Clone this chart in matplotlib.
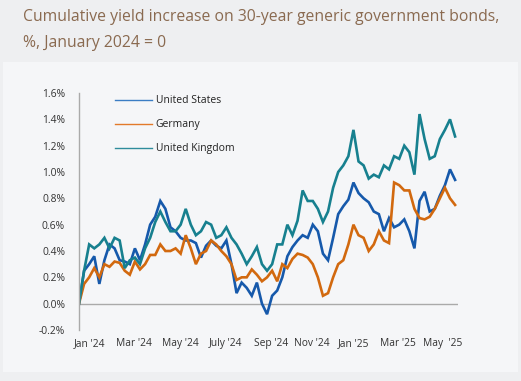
import pandas as pd
import matplotlib.pyplot as plt
from matplotlib.lines import Line2D
from matplotlib.patches import Rectangle

# weekly readings, cumulative change since Jan 2024 (percentage points)
dates = pd.date_range('2024-01-01', periods=75, freq='7D')

us = [0.0, 0.25, 0.30, 0.36, 0.15, 0.33, 0.45, 0.42, 0.33, 0.32,
      0.30, 0.42, 0.33, 0.45, 0.60, 0.66, 0.78, 0.72, 0.58, 0.55,
      0.50, 0.48, 0.48, 0.46, 0.35, 0.44, 0.48, 0.44, 0.42, 0.48,
      0.30, 0.08, 0.16, 0.12, 0.06, 0.16, 0.00, -0.08, 0.06, 0.10,
      0.20, 0.36, 0.43, 0.48, 0.52, 0.50, 0.60, 0.55, 0.38, 0.33,
      0.50, 0.68, 0.74, 0.79, 0.92, 0.84, 0.80, 0.77, 0.70, 0.68,
      0.55, 0.65, 0.58, 0.60, 0.64, 0.55, 0.42, 0.78, 0.85, 0.70,
      0.72, 0.82, 0.90, 1.02, 0.94]

germany = [0.0, 0.15, 0.20, 0.27, 0.20, 0.30, 0.28, 0.32, 0.31, 0.25,
           0.22, 0.32, 0.26, 0.30, 0.37, 0.37, 0.45, 0.40, 0.40, 0.42,
           0.38, 0.52, 0.42, 0.30, 0.38, 0.40, 0.48, 0.45, 0.40, 0.36,
           0.30, 0.18, 0.20, 0.20, 0.26, 0.22, 0.17, 0.20, 0.25, 0.17,
           0.30, 0.27, 0.34, 0.38, 0.37, 0.35, 0.30, 0.20, 0.06, 0.08,
           0.20, 0.30, 0.33, 0.45, 0.60, 0.52, 0.50, 0.40, 0.45, 0.55,
           0.48, 0.46, 0.92, 0.90, 0.86, 0.86, 0.72, 0.65, 0.64, 0.66,
           0.72, 0.80, 0.88, 0.80, 0.75]

uk = [0.0, 0.25, 0.45, 0.42, 0.45, 0.50, 0.42, 0.50, 0.48, 0.27,
      0.33, 0.35, 0.30, 0.42, 0.50, 0.62, 0.70, 0.62, 0.55, 0.55,
      0.60, 0.72, 0.60, 0.52, 0.55, 0.62, 0.60, 0.50, 0.52, 0.58,
      0.50, 0.45, 0.38, 0.30, 0.36, 0.43, 0.30, 0.25, 0.30, 0.45,
      0.45, 0.60, 0.52, 0.63, 0.86, 0.78, 0.78, 0.72, 0.62, 0.70,
      0.88, 1.00, 1.05, 1.12, 1.32, 1.08, 1.05, 0.95, 0.98, 0.96,
      1.05, 1.02, 1.12, 1.10, 1.20, 1.15, 0.98, 1.44, 1.25, 1.10,
      1.12, 1.25, 1.32, 1.40, 1.27]

series_names = ['United States', 'Germany', 'United Kingdom']
line_colors = ['#1659ab', '#d2690f', '#17808f']
legend_colors = ['#3b7dc4', '#e27a2a', '#2f8c9c']

tick_dates = pd.to_datetime(['2024-01-15', '2024-03-16', '2024-05-20', '2024-07-21',
                             '2024-09-22', '2024-11-17', '2025-01-13', '2025-03-15',
                             '2025-05-16'])
tick_labels = ["Jan '24", "Mar '24", "May '24", "July '24", "Sep '24",
               "Nov '24", "Jan '25", "Mar '25", "May  '25"]

plt.rcParams['font.family'] = ['Open Sans', 'DejaVu Sans']

fig = plt.figure(figsize=(5.21, 3.81), dpi=100)
fig.patch.set_facecolor('#eeeff1')
# lighter chart panel, behind the axes
fig.patches.append(Rectangle((3 / 521, 1 - 372 / 381), 515 / 521, 310 / 381,
                             transform=fig.transFigure, facecolor='#f5f6f8',
                             edgecolor='none', zorder=-5))

fig.text(23 / 521, 1 - 9 / 381,
         'Cumulative yield increase on 30-year generic government bonds,\n%, January 2024 = 0',
         color='#8a6a50', fontsize=11.3, va='top', ha='left', linespacing=1.85)

ax = fig.add_axes([79 / 521, 1 - 330 / 381, (458 - 79) / 521, (330 - 93) / 381])
ax.set_facecolor('none')
ax.set_zorder(2)

for vals, c in zip([us, germany, uk], line_colors):
    ax.plot(dates, vals, color=c, lw=1.9, solid_joinstyle='miter')

ax.axhline(0, color='#aaaaaa', lw=1, zorder=0)
ax.set_ylim(-0.2, 1.6)
ax.set_xlim(pd.Timestamp('2024-01-01'), pd.Timestamp('2025-06-06'))
ax.set_yticks([-0.2, 0.0, 0.2, 0.4, 0.6, 0.8, 1.0, 1.2, 1.4, 1.6])
ax.set_yticklabels([f'{v:.1f}%' for v in ax.get_yticks()])
ax.set_xticks(tick_dates)
ax.set_xticklabels(tick_labels)
ax.tick_params(axis='both', length=0, labelsize=7.4, colors='#333333')
ax.tick_params(axis='y', pad=10)
ax.tick_params(axis='x', pad=6)

for side in ['top', 'right', 'bottom']:
    ax.spines[side].set_visible(False)
ax.spines['left'].set_color('#aaaaaa')
ax.spines['left'].set_linewidth(1)

handles = [Line2D([], [], color=c, lw=1) for c in legend_colors]
ax.legend(handles, series_names, loc='upper left', bbox_to_anchor=(0.07, 1.03),
          frameon=False, fontsize=7.5, handlelength=3.6, handletextpad=0.3,
          labelspacing=1.25, labelcolor='#222222')

fig.savefig('out.png', dpi=100, facecolor=fig.get_facecolor())
